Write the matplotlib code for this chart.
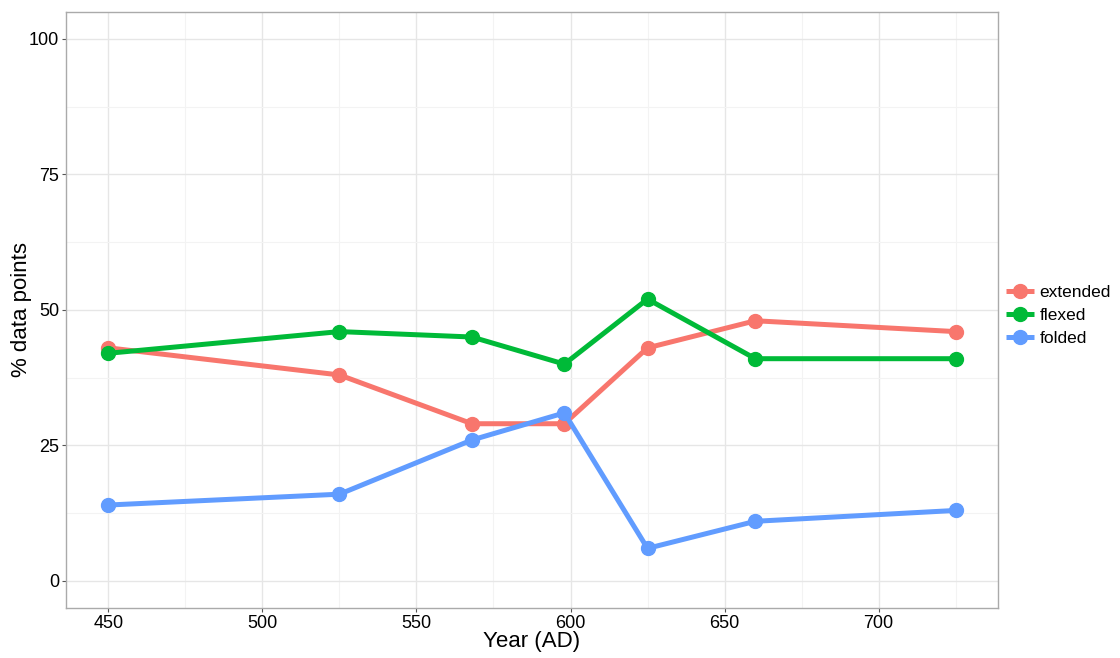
import matplotlib.pyplot as plt
from matplotlib.ticker import MultipleLocator

plt.rcParams['font.family'] = ['Liberation Sans', 'DejaVu Sans']

# data
years = [450, 525, 568, 598, 625, 660, 725]
extended = [43, 38, 29, 29, 43, 48, 46]
flexed = [42, 46, 45, 40, 52, 41, 41]
folded = [14, 16, 26, 31, 6, 11, 13]

series = [("extended", extended, "#F8766D"),
          ("flexed", flexed, "#00BA38"),
          ("folded", folded, "#619CFF")]

fig = plt.figure(figsize=(11.2, 6.58), dpi=100)
ax = fig.add_axes([0.059, 0.076, 0.832, 0.906])

for name, vals, col in series:
    ax.plot(years, vals, color=col, lw=3.6, marker="o", ms=10,
            solid_capstyle="butt", label=name, zorder=3)

ax.set_xlim(436.25, 738.75)
ax.set_ylim(-5, 105)
ax.set_xticks([450, 500, 550, 600, 650, 700])
ax.set_yticks([0, 25, 50, 75, 100])
ax.xaxis.set_minor_locator(MultipleLocator(25))
ax.yaxis.set_minor_locator(MultipleLocator(12.5))
ax.grid(True, which="major", color="#E6E6E6", lw=1.0, zorder=0)
ax.grid(True, which="minor", color="#F3F3F3", lw=0.8, zorder=0)
ax.tick_params(which="minor", length=0)
ax.tick_params(which="major", length=3, color="#555555", labelsize=13,
               labelcolor="black", pad=2)
for sp in ax.spines.values():
    sp.set_color("#AAAAAA")
    sp.set_linewidth(1.0)

ax.set_xlabel("Year (AD)", fontsize=16)
ax.set_ylabel("% data points", fontsize=16)
ax.xaxis.set_label_coords(0.5, -0.039)
ax.yaxis.set_label_coords(-0.037, 0.5)

handles, labels = ax.get_legend_handles_labels()
fig.legend(handles, labels, loc="center left", bbox_to_anchor=(0.895, 0.52),
           frameon=False, fontsize=12.5, handlelength=1.6, handletextpad=0.35,
           labelspacing=0.45, borderaxespad=0, borderpad=0.2)

fig.savefig("out.png", dpi=100)
